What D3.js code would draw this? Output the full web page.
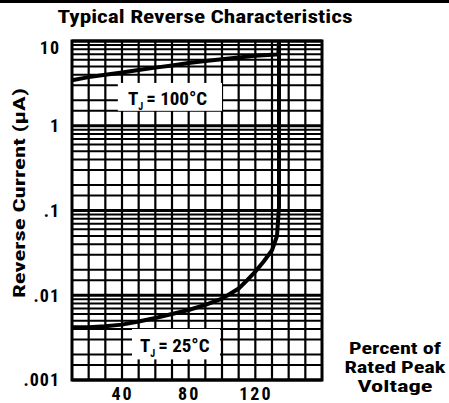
<!DOCTYPE html>
<html><head><meta charset="utf-8">
<script src="https://cdn.jsdelivr.net/npm/d3@7/dist/d3.min.js"></script>
<style>
html,body{margin:0;padding:0;background:#fff;}
svg text{font-family:"Liberation Sans Narrow","Roboto Condensed","DejaVu Sans Condensed",sans-serif;font-weight:bold;fill:#000;}
</style></head>
<body><svg id="c" width="449" height="403"></svg>
<script>
// ---- data ----
const xTickValues = [40, 80, 120];
const yTickValues = [10, 1, 0.1, 0.01, 0.001];
const yTickLabels = ["10", "1", ".1", ".01", ".001"];
const xGridValues = [20, 30, 40, 50, 60, 70, 80, 90, 100, 110, 120, 130, 140, 150];
const yGridMultipliers = [1, 1.5, 2, 3, 4, 5, 6, 7, 8, 9];
const pct100 = [10, 20, 30, 40, 50, 60, 70, 80, 90, 100, 110, 120, 130, 133.8, 134.2];
const cur100 = [3.45, 3.75, 4.0, 4.25, 4.55, 4.85, 5.15, 5.5, 5.8, 6.1, 6.4, 6.7, 6.9, 6.95, 10];
const pct25 = [10, 20, 30, 40, 50, 60, 70, 80, 90, 100, 110, 115, 120, 125, 130, 133, 133.8, 134.2, 134.2];
const cur25 = [0.0042, 0.0042, 0.0043, 0.0045, 0.0049, 0.0054, 0.006, 0.0067, 0.0077, 0.0091, 0.012, 0.015, 0.019, 0.025, 0.034, 0.05, 0.085, 0.11, 10];

const svg = d3.select("#c");
const L = 72, R = 322, T = 41, B = 380;
const x = d3.scaleLinear().domain([10, 160]).range([L, R]);
const y = d3.scaleLog().domain([0.001, 10]).range([B, T]);

// top rule
svg.append("rect").attr("x", 0).attr("y", 0).attr("width", 449).attr("height", 3).attr("fill", "#000");

// title
svg.append("text").attr("x", 205).attr("y", 23).attr("text-anchor", "middle")
  .attr("font-size", 18).attr("textLength", 295).attr("lengthAdjust", "spacingAndGlyphs")
  .text("Typical Reverse Characteristics");

// grid
const g = svg.append("g");
const yGrid = [];
[0.001, 0.01, 0.1, 1].forEach(d => yGridMultipliers.forEach(m => yGrid.push({v: d * m, major: m === 1})));
yGrid.push({v: 10, major: true});
g.selectAll("line.h").data(yGrid).enter().append("line")
  .attr("x1", L).attr("x2", R).attr("y1", d => y(d.v)).attr("y2", d => y(d.v))
  .attr("stroke", "#000").attr("stroke-width", d => d.major ? 3 : 2);
g.selectAll("line.v").data(xGridValues).enter().append("line")
  .attr("x1", d => x(d)).attr("x2", d => x(d)).attr("y1", T).attr("y2", B)
  .attr("stroke", "#000").attr("stroke-width", 2.2);

// annotation boxes (cover grid)
const boxes = [
  {x0: 37.5, x1: 100, y0: 3.2, y1: 1.5, tx: 128, base: 105, label: "100°C"},
  {x0: 46, x1: 98.8, y0: 0.004, y1: 0.00175, tx: 140, base: 352, label: "25°C"}
];
boxes.forEach(b => {
  svg.append("rect").attr("x", x(b.x0)).attr("y", y(b.y0))
    .attr("width", x(b.x1) - x(b.x0)).attr("height", y(b.y1) - y(b.y0)).attr("fill", "#fff");
});

// border
svg.append("rect").attr("x", L).attr("y", T).attr("width", R - L).attr("height", B - T)
  .attr("fill", "none").attr("stroke", "#000").attr("stroke-width", 3);

// curves
const line = d3.line().x(d => x(d[0])).y(d => y(d[1]));
svg.append("path").datum(d3.zip(pct100, cur100)).attr("d", line)
  .attr("fill", "none").attr("stroke", "#000").attr("stroke-width", 4);
svg.append("path").datum(d3.zip(pct25, cur25)).attr("d", line)
  .attr("fill", "none").attr("stroke", "#000").attr("stroke-width", 4);

// annotation text
boxes.forEach(b => {
  const t = svg.append("text").attr("x", b.tx).attr("y", b.base).attr("font-size", 19);
  t.append("tspan").text("T");
  t.append("tspan").attr("font-size", 10).attr("dy", 5).text("J");
  t.append("tspan").attr("dy", -5).attr("dx", 3).text("= ");
  t.append("tspan").text(b.label);
});

// x axis
const xa = svg.append("g").attr("transform", `translate(0,${B})`)
  .call(d3.axisBottom(x).tickValues(xTickValues).tickSize(0).tickPadding(0));
xa.select(".domain").remove();
xa.selectAll("text").attr("font-size", 18).attr("dy", 0).attr("y", 20)
  .attr("font-family", null).style("letter-spacing", "2px");

// y axis
const ya = svg.append("g").attr("transform", `translate(60,0)`)
  .call(d3.axisLeft(y).tickValues(yTickValues).tickFormat((d, i) => yTickLabels[i]).tickSize(0).tickPadding(0));
ya.select(".domain").remove();
ya.selectAll(".tick").attr("transform", d => `translate(0,${Math.max(y(d), 48)})`);
ya.selectAll("text").attr("font-size", 18).attr("dy", "0.36em").attr("x", 0)
  .attr("font-family", null).style("letter-spacing", "1px");

// y title
svg.append("text").attr("transform", "translate(25,193) rotate(-90)").attr("text-anchor", "middle")
  .attr("font-size", 17).attr("textLength", 210).attr("lengthAdjust", "spacingAndGlyphs")
  .text("Reverse Current (µA)");

// x title
const xt = [["Percent of", 354, 92], ["Rated Peak", 373, 101], ["Voltage", 392, 75]];
xt.forEach(d => svg.append("text").attr("x", 395).attr("y", d[1]).attr("text-anchor", "middle")
  .attr("font-size", 16).attr("textLength", d[2]).attr("lengthAdjust", "spacingAndGlyphs").text(d[0]));
</script></body></html>
